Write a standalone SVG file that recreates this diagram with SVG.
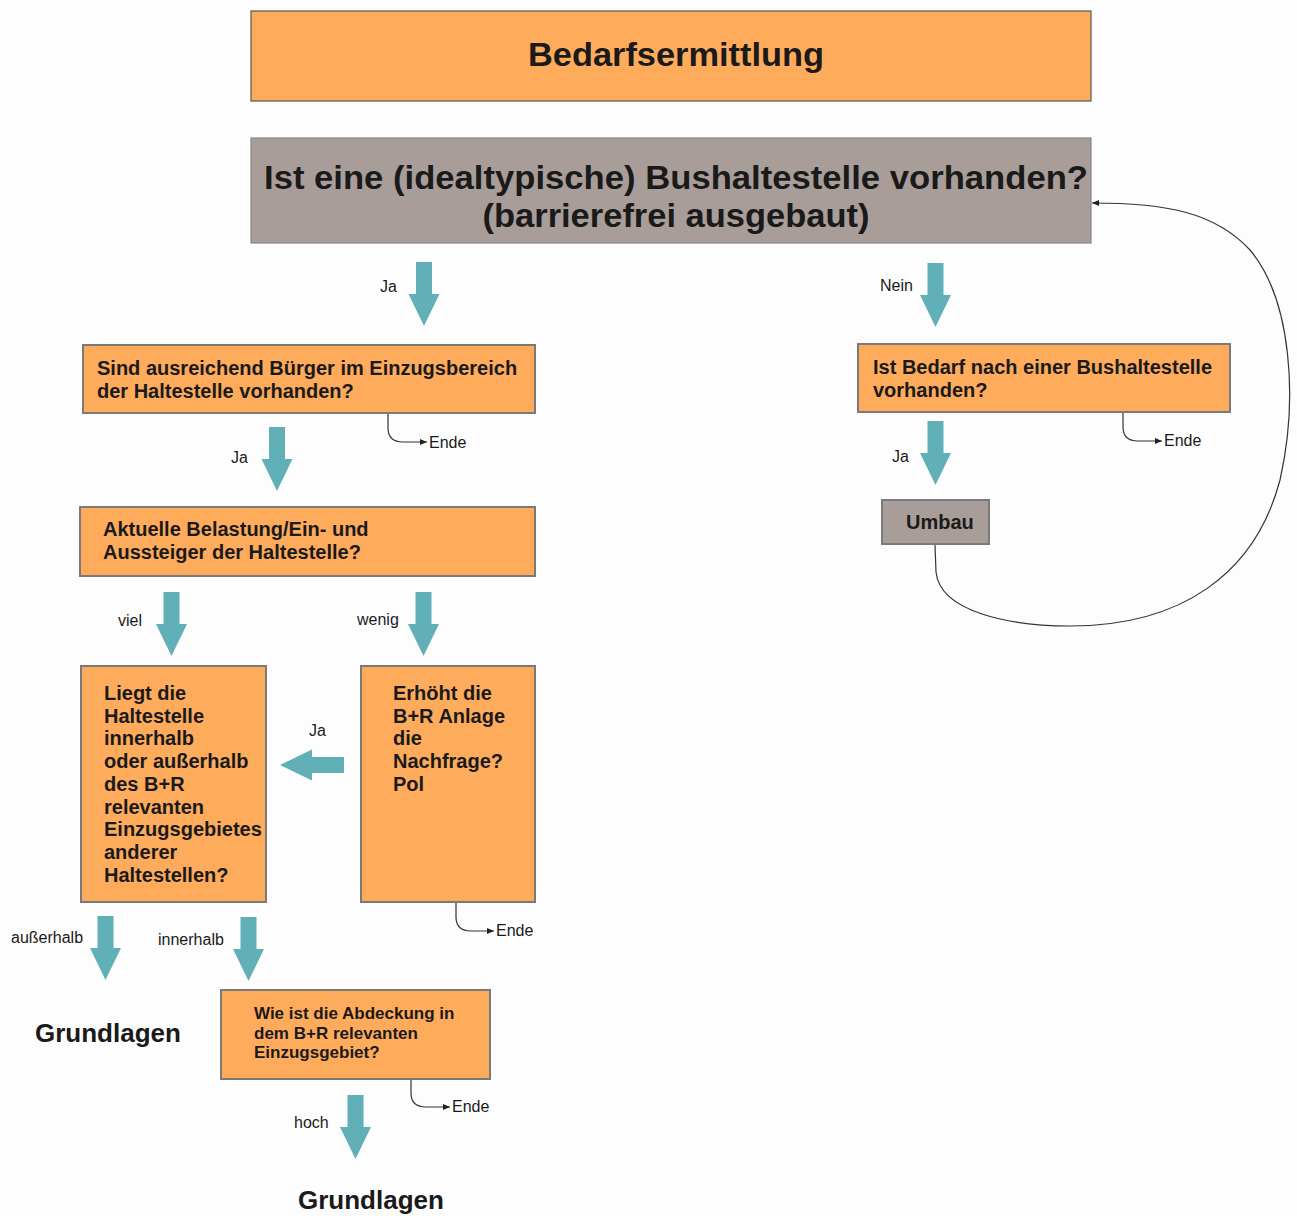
<svg xmlns="http://www.w3.org/2000/svg" xmlns:xlink="http://www.w3.org/1999/xlink" width="1297" height="1216" viewBox="0 0 1297 1216">
<style>
.box{fill:#FEAB5C;stroke:#7a7a7a;stroke-width:2}
.gbox{fill:#A89D99;stroke:#7a7a7a;stroke-width:2}
.t{font-family:"Liberation Sans",Arial,sans-serif;font-weight:bold;fill:#1a1a1a}
.lbl{font-family:"Liberation Sans",Arial,sans-serif;font-size:16px;fill:#1a1a1a}
.big{font-size:34px}
.m{font-size:20px}
.s{font-size:17px}
.gl{font-size:26px}
.arr{fill:#61B0B8}
.line{fill:none;stroke:#333;stroke-width:1.2}
</style>
<defs>
<path id="down" class="arr" d="M -8 0 H 8 V 32 H 15.5 L 0 64 L -15.5 32 H -8 Z"/>
<marker id="ah" markerWidth="8" markerHeight="8" refX="7" refY="4" orient="auto" markerUnits="userSpaceOnUse">
<path d="M0,1 L7,4 L0,7 Z" fill="#222"/>
</marker>
</defs>
<rect x="0" y="0" width="1297" height="1216" fill="#fdfdfd"/>

<g id="n-title">
<rect x="251" y="11" width="840" height="90" fill="#FEAB5C" stroke="#555" stroke-width="1.2"/>
<text class="t big" x="676" y="66" text-anchor="middle" textLength="296" lengthAdjust="spacingAndGlyphs">Bedarfsermittlung</text>
</g>

<g id="n-question">
<rect x="251" y="138" width="840" height="105" fill="#A89D99" stroke="#888" stroke-width="1.2"/>
<text class="t big" x="676" y="189" text-anchor="middle" textLength="824" lengthAdjust="spacingAndGlyphs">Ist eine (idealtypische) Bushaltestelle vorhanden?</text>
<text class="t big" x="676" y="227" text-anchor="middle" textLength="387" lengthAdjust="spacingAndGlyphs">(barrierefrei ausgebaut)</text>
</g>

<g id="n-buerger">
<rect class="box" x="83" y="345" width="452" height="68"/>
<text class="t m" x="97" y="375">Sind ausreichend Bürger im Einzugsbereich</text>
<text class="t m" x="97" y="398">der Haltestelle vorhanden?</text>
</g>

<g id="n-bedarf">
<rect class="box" x="858" y="344" width="372" height="68"/>
<text class="t m" x="873" y="374">Ist Bedarf nach einer Bushaltestelle</text>
<text class="t m" x="873" y="397">vorhanden?</text>
</g>

<g id="n-umbau">
<rect class="gbox" x="882" y="500" width="107" height="44"/>
<text class="t m" x="906" y="529">Umbau</text>
</g>

<g id="n-belastung">
<rect class="box" x="80" y="507" width="455" height="69"/>
<text class="t m" x="103" y="536">Aktuelle Belastung/Ein- und</text>
<text class="t m" x="103" y="559">Aussteiger der Haltestelle?</text>
</g>

<g id="n-liegt">
<rect class="box" x="81" y="666" width="185" height="236"/>
<text class="t m" x="104" y="700">Liegt die</text>
<text class="t m" x="104" y="722.7">Haltestelle</text>
<text class="t m" x="104" y="745.4">innerhalb</text>
<text class="t m" x="104" y="768.1">oder außerhalb</text>
<text class="t m" x="104" y="790.8">des B+R</text>
<text class="t m" x="104" y="813.5">relevanten</text>
<text class="t m" x="104" y="836.2">Einzugsgebietes</text>
<text class="t m" x="104" y="858.9">anderer</text>
<text class="t m" x="104" y="881.6">Haltestellen?</text>
</g>

<g id="n-erhoeht">
<rect class="box" x="361" y="666" width="174" height="236"/>
<text class="t m" x="393" y="700">Erhöht die</text>
<text class="t m" x="393" y="722.7">B+R Anlage</text>
<text class="t m" x="393" y="745.4">die</text>
<text class="t m" x="393" y="768.1">Nachfrage?</text>
<text class="t m" x="393" y="790.8">Pol</text>
</g>

<g id="n-grundlagen1">
<text class="t gl" x="35" y="1042">Grundlagen</text>
</g>

<g id="n-abdeckung">
<rect class="box" x="221" y="990" width="269" height="89"/>
<text class="t s" x="254" y="1019">Wie ist die Abdeckung in</text>
<text class="t s" x="254" y="1038.5">dem B+R relevanten</text>
<text class="t s" x="254" y="1058">Einzugsgebiet?</text>
</g>

<g id="n-grundlagen2">
<text class="t gl" x="298" y="1209">Grundlagen</text>
</g>

<g id="connectors">
<use xlink:href="#down" x="424" y="262"/>
<text class="lbl" x="380" y="292">Ja</text>
<use xlink:href="#down" x="935.5" y="263"/>
<text class="lbl" x="880" y="291">Nein</text>
<use xlink:href="#down" x="277" y="427"/>
<text class="lbl" x="231" y="463">Ja</text>
<use xlink:href="#down" x="935.5" y="421"/>
<text class="lbl" x="892" y="462">Ja</text>
<use xlink:href="#down" x="171.5" y="592"/>
<text class="lbl" x="118" y="626">viel</text>
<use xlink:href="#down" x="423.5" y="592"/>
<text class="lbl" x="357" y="625">wenig</text>
<path class="arr" d="M -8 0 H 8 V 32 H 15.5 L 0 64 L -15.5 32 H -8 Z" transform="translate(344,765) rotate(90)"/>
<text class="lbl" x="309" y="736">Ja</text>
<use xlink:href="#down" x="105.5" y="916"/>
<text class="lbl" x="11" y="943">außerhalb</text>
<use xlink:href="#down" x="248.5" y="917"/>
<text class="lbl" x="158" y="945">innerhalb</text>
<use xlink:href="#down" x="355.5" y="1095"/>
<text class="lbl" x="294" y="1128">hoch</text>

<path class="line" d="M 388 414 L 388 428 C 388 438, 393 442, 403 442 L 427 442" marker-end="url(#ah)"/>
<text class="lbl" x="429" y="448">Ende</text>
<path class="line" d="M 1123 413 L 1123 427 C 1123 437, 1128 441, 1138 441 L 1162 441" marker-end="url(#ah)"/>
<text class="lbl" x="1164" y="446">Ende</text>
<path class="line" d="M 456 903 L 456 917 C 456 927, 461 931, 471 931 L 494 931" marker-end="url(#ah)"/>
<text class="lbl" x="496" y="936">Ende</text>
<path class="line" d="M 411 1080 L 411 1093 C 411 1103, 416 1107, 426 1107 L 450 1107" marker-end="url(#ah)"/>
<text class="lbl" x="452" y="1112">Ende</text>

<path class="line" d="M 935 545 L 936 572 C 940 612, 1010 626, 1070 626 C 1180 626, 1255 575, 1280 480 C 1298 400, 1292 300, 1250 250 C 1215 212, 1165 203, 1092 203" marker-end="url(#ah)"/>
</g>
</svg>
